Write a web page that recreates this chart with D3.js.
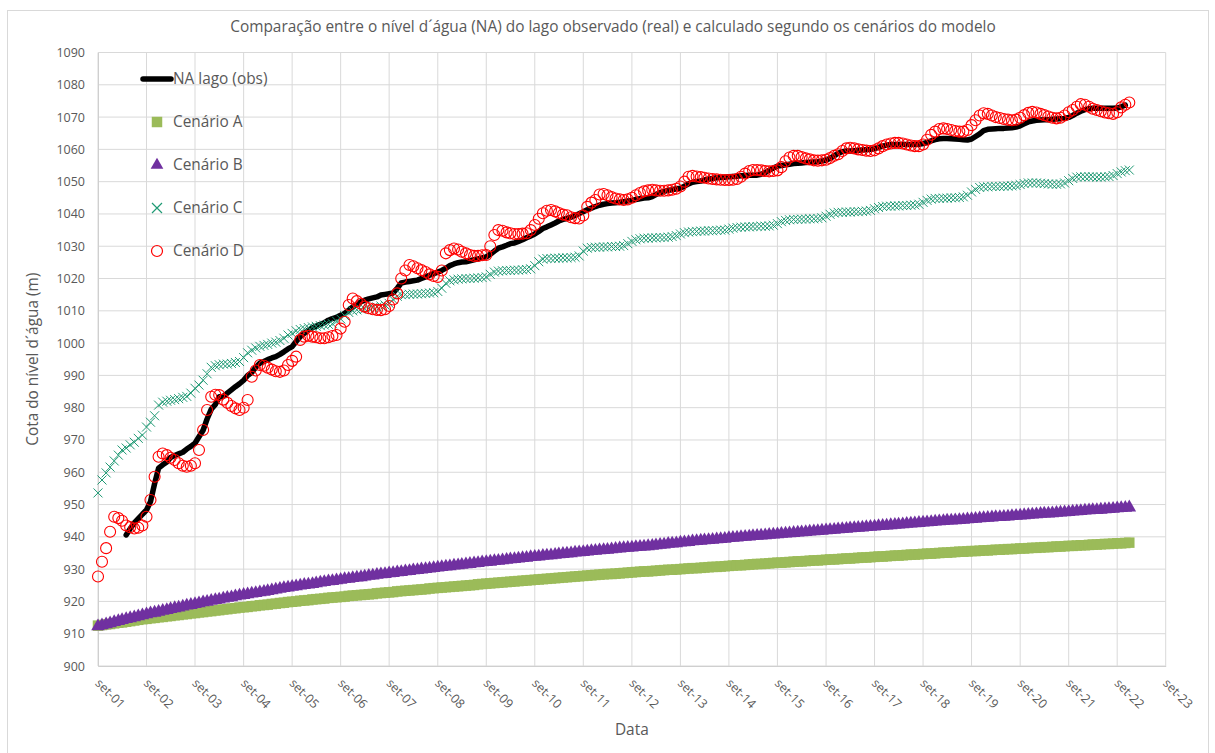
<!DOCTYPE html>
<html>
<head>
<meta charset="utf-8">
<script src="https://cdn.jsdelivr.net/npm/d3@7"></script>
<style>
  body { margin: 0; background: #fff; }
  svg text { font-family: "Open Sans", "Noto Sans", sans-serif; fill: #595959; }
</style>
</head>
<body>
<svg id="chart" width="1215" height="753"></svg>
<script>
// monthly series, set-2001 .. dez-2022 (one row per calendar year)
const firstMonth = new Date(2001, 8, 1);
const lastMonth = new Date(2022, 11, 1);

const obsLevel = [
  null, null, null, null,
  null, null, null, 940.6, 942.5, 944.3, 945.6, 947.0, 948.3, 950.9, 956.5, 961.3,
  962.3, 963.2, 964.6, 965.2, 965.7, 966.2, 967.2, 968.0, 969.0, 971.0, 973.0, 976.5,
  979.5, 981.0, 983.4, 983.5, 984.5, 985.5, 986.5, 987.4, 988.5, 990.0, 990.9, 992.5,
  993.8, 994.3, 994.9, 995.4, 995.8, 996.5, 997.3, 998.2, 998.9, 1000.5, 1002.0, 1003.0,
  1004.0, 1004.7, 1005.3, 1005.8, 1006.3, 1007.1, 1007.6, 1008.0, 1008.6, 1009.2, 1010.2, 1011.2,
  1012.0, 1012.8, 1013.3, 1013.7, 1014.0, 1014.3, 1014.9, 1015.1, 1015.3, 1015.5, 1017.0, 1018.6,
  1018.9, 1019.1, 1019.3, 1019.5, 1020.0, 1020.5, 1021.0, 1021.5, 1022.0, 1022.5, 1023.2, 1024.0,
  1024.5, 1024.9, 1025.1, 1025.2, 1025.5, 1025.8, 1026.1, 1026.4, 1026.7, 1027.5, 1028.5, 1029.4,
  1029.8, 1030.3, 1030.8, 1031.0, 1031.5, 1032.0, 1032.6, 1033.2, 1033.8, 1034.6, 1035.5, 1036.0,
  1036.6, 1037.2, 1037.8, 1038.3, 1038.6, 1039.0, 1039.5, 1040.1, 1040.7, 1041.3, 1041.8, 1042.3,
  1042.7, 1043.0, 1043.2, 1043.4, 1043.5, 1043.6, 1043.8, 1044.0, 1044.2, 1044.5, 1044.7, 1044.9,
  1045.0, 1045.4, 1046.0, 1046.6, 1047.0, 1047.3, 1047.5, 1047.8, 1048.0, 1048.6, 1049.3, 1049.8,
  1050.0, 1050.2, 1050.5, 1050.8, 1051.0, 1051.2, 1051.3, 1051.4, 1051.5, 1051.6, 1051.7, 1051.8,
  1051.9, 1052.0, 1052.0, 1052.0, 1052.3, 1052.8, 1053.5, 1054.2, 1054.8, 1055.0, 1055.2, 1055.4,
  1055.6, 1055.7, 1055.8, 1055.9, 1056.0, 1056.1, 1056.2, 1056.4, 1056.7, 1057.2, 1058.0, 1058.8,
  1059.3, 1059.5, 1059.5, 1059.6, 1059.7, 1059.8, 1059.9, 1060.0, 1060.2, 1060.6, 1061.0, 1061.3,
  1061.5, 1061.5, 1061.5, 1061.5, 1061.5, 1061.5, 1061.5, 1061.6, 1061.8, 1062.2, 1062.6, 1063.0,
  1063.3, 1063.4, 1063.4, 1063.3, 1063.2, 1063.1, 1063.0, 1062.9, 1063.2, 1064.0, 1064.8, 1065.8,
  1066.2, 1066.3, 1066.4, 1066.5, 1066.5, 1066.6, 1066.7, 1066.9, 1067.3, 1067.9, 1068.5, 1068.8,
  1069.0, 1069.1, 1069.2, 1069.2, 1069.3, 1069.4, 1069.5, 1069.6, 1069.9, 1070.5, 1071.2, 1071.8,
  1072.3, 1072.6, 1072.7, 1072.7, 1072.7, 1072.7, 1072.7, 1072.7, 1072.8, 1073.2, 1073.7, null
];

const cenarioA = [
  912.5, 912.7, 912.9, 913.0,
  913.2, 913.4, 913.5, 913.7, 913.9, 914.1, 914.3, 914.5, 914.6, 914.8, 914.9, 915.1,
  915.2, 915.4, 915.5, 915.7, 915.8, 916.0, 916.1, 916.3, 916.4, 916.6, 916.7, 916.9,
  917.0, 917.2, 917.3, 917.5, 917.6, 917.8, 917.9, 918.1, 918.2, 918.3, 918.5, 918.6,
  918.8, 918.9, 919.0, 919.2, 919.3, 919.5, 919.6, 919.8, 919.9, 920.0, 920.2, 920.3,
  920.4, 920.6, 920.7, 920.8, 920.9, 921.1, 921.2, 921.3, 921.4, 921.5, 921.7, 921.8,
  921.9, 922.0, 922.1, 922.2, 922.3, 922.5, 922.6, 922.7, 922.8, 922.9, 923.1, 923.2,
  923.3, 923.4, 923.5, 923.6, 923.7, 923.8, 924.0, 924.1, 924.2, 924.3, 924.4, 924.5,
  924.6, 924.7, 924.8, 924.9, 925.0, 925.1, 925.3, 925.4, 925.5, 925.6, 925.7, 925.8,
  925.9, 926.0, 926.1, 926.2, 926.3, 926.4, 926.5, 926.6, 926.7, 926.8, 926.9, 927.0,
  927.1, 927.2, 927.3, 927.4, 927.5, 927.6, 927.7, 927.8, 927.9, 928.0, 928.1, 928.2,
  928.3, 928.4, 928.5, 928.5, 928.6, 928.7, 928.8, 928.9, 929.0, 929.1, 929.2, 929.3,
  929.3, 929.4, 929.5, 929.6, 929.7, 929.8, 929.8, 929.9, 930.0, 930.1, 930.2, 930.3,
  930.3, 930.4, 930.5, 930.6, 930.7, 930.7, 930.8, 930.9, 931.0, 931.1, 931.2, 931.2,
  931.3, 931.4, 931.5, 931.6, 931.6, 931.7, 931.8, 931.9, 932.0, 932.0, 932.1, 932.2,
  932.3, 932.4, 932.4, 932.5, 932.6, 932.7, 932.7, 932.8, 932.9, 933.0, 933.0, 933.1,
  933.2, 933.3, 933.3, 933.4, 933.5, 933.6, 933.6, 933.7, 933.8, 933.9, 933.9, 934.0,
  934.1, 934.2, 934.2, 934.3, 934.4, 934.5, 934.5, 934.6, 934.7, 934.8, 934.8, 934.9,
  935.0, 935.1, 935.1, 935.2, 935.3, 935.4, 935.4, 935.5, 935.6, 935.6, 935.7, 935.8,
  935.8, 935.9, 936.0, 936.0, 936.1, 936.2, 936.2, 936.3, 936.4, 936.4, 936.5, 936.6,
  936.6, 936.7, 936.8, 936.8, 936.9, 937.0, 937.0, 937.1, 937.2, 937.2, 937.3, 937.4,
  937.4, 937.5, 937.6, 937.6, 937.7, 937.8, 937.8, 937.9, 938.0, 938.0, 938.1, 938.2
];

const cenarioB = [
  912.3, 912.6, 912.9, 913.2,
  913.6, 913.9, 914.2, 914.5, 914.8, 915.1, 915.4, 915.7, 916.0, 916.3, 916.5, 916.8,
  917.1, 917.3, 917.6, 917.9, 918.1, 918.4, 918.7, 918.9, 919.2, 919.4, 919.7, 919.9,
  920.2, 920.4, 920.6, 920.9, 921.1, 921.3, 921.6, 921.8, 922.0, 922.2, 922.4, 922.6,
  922.8, 923.0, 923.2, 923.4, 923.7, 923.9, 924.1, 924.3, 924.5, 924.7, 924.9, 925.1,
  925.2, 925.4, 925.6, 925.8, 926.0, 926.2, 926.3, 926.5, 926.7, 926.9, 927.0, 927.2,
  927.4, 927.5, 927.7, 927.9, 928.0, 928.2, 928.4, 928.5, 928.7, 928.8, 929.0, 929.1,
  929.3, 929.4, 929.6, 929.7, 929.9, 930.0, 930.2, 930.3, 930.5, 930.6, 930.8, 930.9,
  931.1, 931.2, 931.3, 931.5, 931.6, 931.8, 931.9, 932.1, 932.2, 932.3, 932.5, 932.6,
  932.7, 932.9, 933.0, 933.1, 933.3, 933.4, 933.5, 933.7, 933.8, 933.9, 934.1, 934.2,
  934.3, 934.4, 934.6, 934.7, 934.8, 934.9, 935.1, 935.2, 935.3, 935.4, 935.6, 935.7,
  935.8, 935.9, 936.0, 936.1, 936.3, 936.4, 936.5, 936.6, 936.7, 936.8, 936.9, 937.0,
  937.1, 937.2, 937.4, 937.5, 937.6, 937.8, 937.9, 938.0, 938.2, 938.3, 938.4, 938.6,
  938.7, 938.8, 938.9, 939.0, 939.1, 939.2, 939.3, 939.4, 939.6, 939.7, 939.8, 939.9,
  940.0, 940.1, 940.2, 940.3, 940.4, 940.5, 940.6, 940.7, 940.8, 940.9, 941.0, 941.1,
  941.2, 941.3, 941.4, 941.5, 941.6, 941.7, 941.8, 941.9, 942.0, 942.1, 942.2, 942.3,
  942.4, 942.5, 942.6, 942.7, 942.8, 942.9, 943.0, 943.1, 943.2, 943.3, 943.4, 943.5,
  943.6, 943.7, 943.8, 943.9, 944.0, 944.1, 944.2, 944.3, 944.4, 944.5, 944.6, 944.7,
  944.8, 944.9, 945.0, 945.0, 945.1, 945.2, 945.3, 945.4, 945.5, 945.6, 945.7, 945.8,
  945.9, 946.0, 946.1, 946.1, 946.2, 946.3, 946.4, 946.5, 946.6, 946.7, 946.8, 946.9,
  947.0, 947.1, 947.2, 947.2, 947.3, 947.4, 947.5, 947.6, 947.7, 947.8, 947.9, 948.0,
  948.1, 948.2, 948.3, 948.3, 948.4, 948.5, 948.6, 948.7, 948.8, 948.9, 949.0, 949.1
];

const cenarioC = [
  953.6, 957.6, 959.8, 961.6,
  963.5, 965.3, 966.9, 967.5, 968.5, 969.3, 970.5, 971.5, 974.0, 975.5, 977.5, 980.8,
  981.7, 982.0, 982.3, 982.5, 982.8, 983.2, 983.5, 984.5, 986.0, 987.0, 988.5, 990.5,
  992.5, 993.0, 993.3, 993.5, 993.5, 993.7, 994.0, 994.3, 995.5, 997.0, 997.8, 998.5,
  999.0, 999.3, 999.6, 1000.0, 1000.3, 1000.8, 1001.5, 1002.5, 1003.0, 1003.8, 1004.2, 1004.5,
  1004.8, 1005.0, 1005.2, 1005.4, 1005.6, 1005.8, 1006.0, 1006.8, 1007.5, 1008.5, 1009.5, 1010.0,
  1010.3, 1010.5, 1010.6, 1010.8, 1011.0, 1011.2, 1011.5, 1011.8, 1012.3, 1013.5, 1014.5, 1015.0,
  1015.0, 1015.1, 1015.2, 1015.2, 1015.3, 1015.4, 1015.5, 1015.6, 1016.0, 1017.0, 1018.5, 1019.3,
  1019.6, 1019.8, 1019.9, 1020.0, 1020.0, 1020.1, 1020.2, 1020.3, 1020.5, 1021.3, 1022.0, 1022.3,
  1022.4, 1022.5, 1022.5, 1022.6, 1022.6, 1022.7, 1022.8, 1023.0, 1024.0, 1025.2, 1026.0, 1026.2,
  1026.2, 1026.3, 1026.3, 1026.4, 1026.4, 1026.5, 1026.6, 1027.0, 1028.5, 1029.4, 1029.6, 1029.7,
  1029.7, 1029.8, 1029.8, 1029.9, 1029.9, 1030.0, 1030.2, 1030.8, 1031.5, 1032.0, 1032.3, 1032.5,
  1032.5, 1032.6, 1032.6, 1032.7, 1032.7, 1032.8, 1033.0, 1033.3, 1033.8, 1034.2, 1034.4, 1034.5,
  1034.6, 1034.7, 1034.7, 1034.8, 1034.8, 1034.9, 1035.0, 1035.0, 1035.3, 1035.6, 1035.8, 1035.9,
  1036.0, 1036.0, 1036.1, 1036.1, 1036.2, 1036.2, 1036.3, 1036.5, 1037.0, 1037.6, 1038.0, 1038.2,
  1038.3, 1038.3, 1038.4, 1038.4, 1038.5, 1038.5, 1038.6, 1038.8, 1039.3, 1039.9, 1040.3, 1040.5,
  1040.5, 1040.6, 1040.6, 1040.7, 1040.7, 1040.8, 1040.9, 1041.1, 1041.6, 1042.0, 1042.3, 1042.4,
  1042.4, 1042.5, 1042.5, 1042.6, 1042.6, 1042.7, 1042.8, 1043.0, 1043.6, 1044.2, 1044.6, 1044.8,
  1044.8, 1044.9, 1044.9, 1045.0, 1045.0, 1045.1, 1045.3, 1045.8, 1046.8, 1047.6, 1048.2, 1048.4,
  1048.4, 1048.5, 1048.5, 1048.5, 1048.6, 1048.6, 1048.7, 1048.8, 1049.1, 1049.4, 1049.6, 1049.6,
  1049.6, 1049.5, 1049.4, 1049.3, 1049.2, 1049.2, 1049.3, 1049.6, 1050.3, 1051.0, 1051.4, 1051.5,
  1051.5, 1051.5, 1051.5, 1051.4, 1051.4, 1051.5, 1051.6, 1051.9, 1052.5, 1053.0, 1053.4, 1053.6
];

const cenarioD = [
  927.7, 932.3, 936.5, 941.6,
  946.2, 945.8, 945.0, 943.5, 943.0, 942.6, 942.8, 943.5, 946.2, 951.4, 958.6, 964.8,
  965.8, 965.3, 964.5, 963.8, 962.8, 962.0, 961.7, 962.0, 962.8, 966.9, 973.1, 979.3,
  983.4, 984.0, 983.9, 982.5, 981.5, 980.5, 979.8, 979.3, 980.0, 982.4, 989.6, 991.5,
  993.2, 993.0, 992.4, 991.8, 991.3, 991.1, 991.5, 993.2, 994.5, 995.8, 1001.0, 1002.0,
  1002.3, 1002.0, 1001.8, 1001.5, 1001.5, 1001.8, 1002.2, 1002.5, 1004.5, 1006.6, 1011.8, 1013.8,
  1013.0, 1012.2, 1011.3, 1010.8, 1010.5, 1010.3, 1010.2, 1010.5, 1011.5, 1013.5, 1015.4, 1020.0,
  1022.5, 1024.2, 1023.8, 1023.2, 1022.6, 1022.0, 1021.3, 1020.8, 1020.5, 1022.5, 1027.8, 1028.8,
  1029.3, 1029.0, 1028.3, 1027.8, 1027.3, 1027.0, 1027.0, 1027.2, 1027.3, 1030.0, 1033.5, 1035.0,
  1034.8, 1034.3, 1034.0, 1033.8, 1033.8, 1033.9, 1034.0, 1035.0, 1036.6, 1038.5, 1040.2, 1041.0,
  1041.2, 1040.8, 1040.3, 1039.8, 1039.6, 1039.0, 1038.7, 1038.6, 1039.5, 1042.2, 1043.5, 1044.3,
  1046.0, 1046.2, 1045.8, 1045.2, 1044.8, 1044.5, 1044.3, 1044.5, 1045.0, 1045.8, 1046.5, 1047.0,
  1047.3, 1047.5, 1047.3, 1047.2, 1047.2, 1047.3, 1047.5, 1047.8, 1048.5, 1050.0, 1051.5, 1051.8,
  1051.6, 1051.4, 1051.2, 1051.0, 1050.8, 1050.7, 1050.6, 1050.5, 1050.5, 1050.6, 1050.8, 1051.5,
  1052.5, 1053.3, 1053.6, 1053.6, 1053.5, 1053.3, 1053.2, 1053.3, 1053.5, 1054.5, 1056.3, 1057.5,
  1058.0, 1058.0, 1057.6, 1057.2, 1056.9, 1056.6, 1056.5, 1056.6, 1056.8, 1057.3, 1058.0, 1058.5,
  1059.5, 1060.3, 1060.5, 1060.3, 1060.0, 1059.8, 1059.6, 1059.5, 1059.7, 1060.3, 1061.0, 1061.5,
  1061.8, 1062.0, 1062.0, 1061.8, 1061.5, 1061.2, 1061.0, 1061.0, 1061.5, 1063.0, 1064.5, 1065.5,
  1066.3, 1066.5, 1066.3, 1066.0, 1065.7, 1065.5, 1065.5, 1066.0, 1067.5, 1069.0, 1070.5, 1071.2,
  1071.0, 1070.5, 1070.0, 1069.7, 1069.4, 1069.2, 1069.0, 1069.2, 1069.8, 1070.6, 1071.3, 1071.6,
  1071.4, 1071.0, 1070.6, 1070.2, 1069.8, 1069.6, 1069.8, 1070.5, 1071.5, 1072.2, 1073.2, 1074.0,
  1073.8, 1073.2, 1072.6, 1072.2, 1071.8, 1071.4, 1071.2, 1071.0, 1071.5, 1073.0, 1073.8, 1074.5
];

const yTickValues = [900, 910, 920, 930, 940, 950, 960, 970, 980, 990, 1000,
  1010, 1020, 1030, 1040, 1050, 1060, 1070, 1080, 1090];
const xTickLabels = ["set-01", "set-02", "set-03", "set-04", "set-05", "set-06", "set-07",
  "set-08", "set-09", "set-10", "set-11", "set-12", "set-13", "set-14", "set-15", "set-16",
  "set-17", "set-18", "set-19", "set-20", "set-21", "set-22", "set-23"];
const legendLabels = ["NA lago (obs)", "Cenário A", "Cenário B", "Cenário C", "Cenário D"];

const titleText = "Comparação entre o nível d´água (NA) do lago observado (real) e calculado segundo os cenários do modelo";

// ---- layout ----
const svg = d3.select("#chart");
const plot = { left: 98, right: 1165.7, top: 52.5, bottom: 666 };
const gridColor = "#d9d9d9";

const months = d3.timeMonth.range(firstMonth, d3.timeMonth.offset(lastMonth, 1));
const tickDates = xTickLabels.map(s => new Date(2000 + +s.slice(4), 8, 1));

const x = d3.scaleTime()
    .domain([tickDates[0], tickDates[tickDates.length - 1]])
    .range([plot.left, plot.right]);
const y = d3.scaleLinear()
    .domain([d3.min(yTickValues), d3.max(yTickValues)])
    .range([plot.bottom, plot.top]);

// chart area border
svg.append("rect")
    .attr("x", 7.5).attr("y", 10.5)
    .attr("width", 1201).attr("height", 760)
    .attr("fill", "none").attr("stroke", "#d9d9d9");

// title
svg.append("text")
    .attr("x", 613).attr("y", 32)
    .attr("text-anchor", "middle")
    .style("font-size", "15.4px")
    .text(titleText);

// gridlines
svg.append("g").selectAll("line")
    .data(yTickValues)
    .join("line")
    .attr("x1", plot.left).attr("x2", plot.right)
    .attr("y1", d => y(d)).attr("y2", d => y(d))
    .attr("stroke", gridColor);

svg.append("g").selectAll("line")
    .data(tickDates)
    .join("line")
    .attr("x1", d => x(d)).attr("x2", d => x(d))
    .attr("y1", plot.top).attr("y2", plot.bottom)
    .attr("stroke", gridColor);

// axes (labels only, Excel style)
const yAxis = svg.append("g")
    .attr("transform", "translate(" + plot.left + ",0)")
    .call(d3.axisLeft(y).tickValues(yTickValues).tickSize(0).tickPadding(13)
        .tickFormat(d3.format("d")));
yAxis.select(".domain").attr("stroke", "#cfcfcf");
yAxis.selectAll("text").style("font-size", "12.5px").attr("fill", "#595959");

const xAxis = svg.append("g")
    .attr("transform", "translate(0," + plot.bottom + ")")
    .call(d3.axisBottom(x).tickValues(tickDates).tickSize(0)
        .tickFormat((d, i) => xTickLabels[i]));
xAxis.select(".domain").attr("stroke", "#cfcfcf");
xAxis.selectAll("text")
    .style("font-size", "12.5px")
    .attr("fill", "#595959")
    .attr("text-anchor", "start")
    .attr("dy", 0)
    .attr("y", 0)
    .attr("transform", "translate(-4,18) rotate(45)");

// axis titles
svg.append("text")
    .attr("x", (plot.left + plot.right) / 2).attr("y", 735)
    .attr("text-anchor", "middle")
    .style("font-size", "15.4px")
    .text("Data");

svg.append("text")
    .attr("transform", "translate(38," + (plot.top + plot.bottom) / 2 + ") rotate(-90)")
    .attr("text-anchor", "middle")
    .style("font-size", "15.4px")
    .text("Cota do nível d´água (m)");

// ---- series ----
const rows = months.map((d, i) => ({
    date: d, obs: obsLevel[i], a: cenarioA[i], b: cenarioB[i], c: cenarioC[i], d: cenarioD[i]
}));

const line = d3.line()
    .defined(d => d.obs != null)
    .x(d => x(d.date))
    .y(d => y(d.obs));

svg.append("path")
    .datum(rows)
    .attr("d", line)
    .attr("fill", "none")
    .attr("stroke", "#000")
    .attr("stroke-width", 5.5)
    .attr("stroke-linejoin", "round")
    .attr("stroke-linecap", "round");

const square = d3.symbol().type(d3.symbolSquare).size(110);
const triangle = d3.symbol().type(d3.symbolTriangle).size(80);
const cross = "M-4.5,-4.5L4.5,4.5M-4.5,4.5L4.5,-4.5";

svg.append("g").selectAll("path")
    .data(rows)
    .join("path")
    .attr("transform", d => "translate(" + x(d.date) + "," + y(d.a) + ")")
    .attr("d", square)
    .attr("fill", "#9bbb59");

svg.append("g").selectAll("path")
    .data(rows)
    .join("path")
    .attr("transform", d => "translate(" + x(d.date) + "," + y(d.b) + ")")
    .attr("d", triangle)
    .attr("fill", "#7030a0");

svg.append("g").selectAll("path")
    .data(rows)
    .join("path")
    .attr("transform", d => "translate(" + x(d.date) + "," + y(d.c) + ")")
    .attr("d", cross)
    .attr("fill", "none")
    .attr("stroke", "#1f9a74")
    .attr("stroke-width", 1);

svg.append("g").selectAll("circle")
    .data(rows)
    .join("circle")
    .attr("cx", d => x(d.date))
    .attr("cy", d => y(d.d))
    .attr("r", 5.5)
    .attr("fill", "none")
    .attr("stroke", "#ff0000")
    .attr("stroke-width", 1.1);

// ---- legend ----
const legend = svg.append("g");
const legendX = 157, legendY0 = 79, legendStep = 43;

legend.append("line")
    .attr("x1", 143).attr("x2", 171)
    .attr("y1", legendY0).attr("y2", legendY0)
    .attr("stroke", "#000").attr("stroke-width", 5.5)
    .attr("stroke-linecap", "round");
legend.append("path")
    .attr("transform", "translate(" + legendX + "," + (legendY0 + legendStep) + ")")
    .attr("d", d3.symbol().type(d3.symbolSquare).size(110))
    .attr("fill", "#9bbb59");
legend.append("path")
    .attr("transform", "translate(" + legendX + "," + (legendY0 + 2 * legendStep) + ")")
    .attr("d", d3.symbol().type(d3.symbolTriangle).size(70))
    .attr("fill", "#7030a0");
legend.append("path")
    .attr("transform", "translate(" + legendX + "," + (legendY0 + 3 * legendStep) + ")")
    .attr("d", "M-5,-5L5,5M-5,5L5,-5")
    .attr("stroke", "#1f9a74").attr("stroke-width", 1.2);
legend.append("circle")
    .attr("cx", legendX).attr("cy", legendY0 + 4 * legendStep)
    .attr("r", 5.5)
    .attr("fill", "none").attr("stroke", "#ff0000").attr("stroke-width", 1.2);

legend.selectAll("text")
    .data(legendLabels)
    .join("text")
    .attr("x", 173)
    .attr("y", (d, i) => legendY0 + i * legendStep)
    .attr("dy", "0.35em")
    .style("font-size", "15.4px")
    .text(d => d);
</script>
</body>
</html>
